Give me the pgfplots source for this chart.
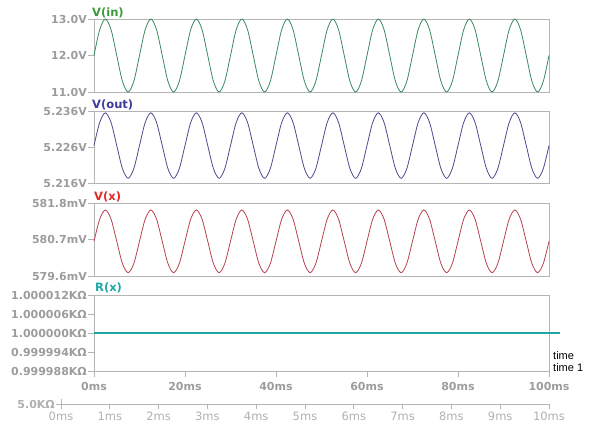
\documentclass[border=0pt]{standalone}
\usepackage{fontspec}
\setmainfont{DejaVu Sans}
\newfontfamily\libsans{Liberation Sans}
\usepackage{pgfplots}
\pgfplotsset{compat=1.18}
\usepackage{pgfplotstable}
\definecolor{framegray}{HTML}{B4B4B4}
\definecolor{tickgray}{HTML}{9C9C9C}
\definecolor{lightgray2}{HTML}{B0B0B0}
\definecolor{vincurve}{HTML}{3A8A5E}
\definecolor{vinlabel}{HTML}{3A9A3A}
\definecolor{voutcurve}{HTML}{4A4A8C}
\definecolor{voutlabel}{HTML}{3C3C9C}
\definecolor{vxcurve}{HTML}{B8404E}
\definecolor{vxlabel}{HTML}{E02828}
\definecolor{rxcol}{HTML}{1FA8A8}

% t [ms], V(in) [V], V(out) [V], V(x) [mV]
\pgfplotstableread{
t vin vout vx
0 12 5.2264 580.645
1.25 12.707 5.2328 581.313
2.5 13 5.2355 581.590
3.75 12.707 5.2328 581.313
5 12 5.2264 580.645
6.25 11.293 5.2200 579.977
7.5 11 5.2173 579.700
8.75 11.293 5.2200 579.977
10 12 5.2264 580.645
11.25 12.707 5.2328 581.313
12.5 13 5.2355 581.590
13.75 12.707 5.2328 581.313
15 12 5.2264 580.645
16.25 11.293 5.2200 579.977
17.5 11 5.2173 579.700
18.75 11.293 5.2200 579.977
20 12 5.2264 580.645
21.25 12.707 5.2328 581.313
22.5 13 5.2355 581.590
23.75 12.707 5.2328 581.313
25 12 5.2264 580.645
26.25 11.293 5.2200 579.977
27.5 11 5.2173 579.700
28.75 11.293 5.2200 579.977
30 12 5.2264 580.645
31.25 12.707 5.2328 581.313
32.5 13 5.2355 581.590
33.75 12.707 5.2328 581.313
35 12 5.2264 580.645
36.25 11.293 5.2200 579.977
37.5 11 5.2173 579.700
38.75 11.293 5.2200 579.977
40 12 5.2264 580.645
41.25 12.707 5.2328 581.313
42.5 13 5.2355 581.590
43.75 12.707 5.2328 581.313
45 12 5.2264 580.645
46.25 11.293 5.2200 579.977
47.5 11 5.2173 579.700
48.75 11.293 5.2200 579.977
50 12 5.2264 580.645
51.25 12.707 5.2328 581.313
52.5 13 5.2355 581.590
53.75 12.707 5.2328 581.313
55 12 5.2264 580.645
56.25 11.293 5.2200 579.977
57.5 11 5.2173 579.700
58.75 11.293 5.2200 579.977
60 12 5.2264 580.645
61.25 12.707 5.2328 581.313
62.5 13 5.2355 581.590
63.75 12.707 5.2328 581.313
65 12 5.2264 580.645
66.25 11.293 5.2200 579.977
67.5 11 5.2173 579.700
68.75 11.293 5.2200 579.977
70 12 5.2264 580.645
71.25 12.707 5.2328 581.313
72.5 13 5.2355 581.590
73.75 12.707 5.2328 581.313
75 12 5.2264 580.645
76.25 11.293 5.2200 579.977
77.5 11 5.2173 579.700
78.75 11.293 5.2200 579.977
80 12 5.2264 580.645
81.25 12.707 5.2328 581.313
82.5 13 5.2355 581.590
83.75 12.707 5.2328 581.313
85 12 5.2264 580.645
86.25 11.293 5.2200 579.977
87.5 11 5.2173 579.700
88.75 11.293 5.2200 579.977
90 12 5.2264 580.645
91.25 12.707 5.2328 581.313
92.5 13 5.2355 581.590
93.75 12.707 5.2328 581.313
95 12 5.2264 580.645
96.25 11.293 5.2200 579.977
97.5 11 5.2173 579.700
98.75 11.293 5.2200 579.977
100 12 5.2264 580.645
}\sigtable

% R(x): deviation from 1.000000 kOhm in ppm (i.e. micro-kOhm)
\pgfplotstableread{
t dev
0 0
102.4 0
}\rtable

\pgfplotsset{
  panel/.style={
    scale only axis, width=455pt, anchor=north west,
    xmin=0, xmax=100, clip=false,
    axis line style={framegray, line width=0.8pt},
    tick style={framegray, line width=0.8pt},
    major tick length=6pt, tick align=outside,
    xtick=\empty, ytick pos=left,
    yticklabel style={font=\bfseries\fontsize{11}{12}\selectfont, text=tickgray, inner sep=1pt},
    xticklabel style={font=\bfseries\fontsize{11}{12}\selectfont, text=tickgray, inner sep=1pt},
  }
}

\begin{document}
\begin{tikzpicture}[x=1pt,y=1pt]
\path[use as bounding box] (0,0) rectangle (616,-428);

\begin{axis}[panel, at={(94pt,-19pt)}, height=73pt,
  ymin=11, ymax=13, ytick={11,12,13}, yticklabels={11.0V,12.0V,13.0V}]
\addplot[vincurve, line width=0.8pt, smooth] table[x=t, y=vin] {\sigtable};
\end{axis}

\begin{axis}[panel, at={(94pt,-111pt)}, height=72pt,
  ymin=5.216, ymax=5.236, ytick={5.216,5.226,5.236}, yticklabels={5.216V,5.226V,5.236V}]
\addplot[voutcurve, line width=0.8pt, smooth] table[x=t, y=vout] {\sigtable};
\end{axis}

\begin{axis}[panel, at={(94pt,-203pt)}, height=73pt,
  ymin=579.6, ymax=581.8, ytick={579.6,580.7,581.8}, yticklabels={579.6mV,580.7mV,581.8mV}]
\addplot[vxcurve, line width=0.8pt, smooth] table[x=t, y=vx] {\sigtable};
\end{axis}

\begin{axis}[panel, at={(94pt,-295pt)}, height=76pt,
  ymin=-12, ymax=12, ytick={-12,-6,0,6,12},
  yticklabels={0.999988KΩ,0.999994KΩ,1.000000KΩ,1.000006KΩ,1.000012KΩ},
  xtick={0,20,40,60,80,100}, xtick pos=bottom,
  xticklabels={0ms,20ms,40ms,60ms,80ms,100ms},
  xticklabel style={yshift=-4pt}]
\addplot[draw=rxcol, line width=1.3pt] table[x=t, y=dev] {\rtable};
\end{axis}

\begin{axis}[scale only axis, at={(61pt,-404pt)}, anchor=south west,
  width=488pt, height=5pt, xmin=0, xmax=10, ymin=0, ymax=1,
  axis x line*=bottom, axis y line*=left,
  axis line style={framegray, line width=0.8pt},
  tick style={framegray, line width=0.8pt},
  major tick length=5pt, tick align=outside,
  xtick={0,1,...,10},
  xticklabels={0ms,1ms,2ms,3ms,4ms,5ms,6ms,7ms,8ms,9ms,10ms},
  ytick={0}, yticklabels={5.0KΩ},
  xticklabel style={font=\fontsize{11.5}{12}\selectfont, text=lightgray2, inner sep=1pt, yshift=-2pt},
  yticklabel style={font=\bfseries\fontsize{11}{12}\selectfont, text=lightgray2, inner sep=1pt}]
\addplot[draw=none] coordinates {(0,0) (10,0)};
\end{axis}

\node[anchor=base west, inner sep=0, font=\bfseries\fontsize{11.5}{12}\selectfont, text=vinlabel] at (92,-17) {V(in)};
\node[anchor=base west, inner sep=0, font=\bfseries\fontsize{11.5}{12}\selectfont, text=voutlabel] at (92,-108.5) {V(out)};
\node[anchor=base west, inner sep=0, font=\bfseries\fontsize{11.5}{12}\selectfont, text=vxlabel] at (94,-200) {V(x)};
\node[anchor=base west, inner sep=0, font=\bfseries\fontsize{11.5}{12}\selectfont, text=rxcol] at (95,-291) {R(x)};

\node[anchor=base west, inner sep=0, font=\libsans\fontsize{11}{11}\selectfont] at (553,-359) {time};
\node[anchor=base west, inner sep=0, font=\libsans\fontsize{11}{11}\selectfont] at (553,-371) {time 1};
\end{tikzpicture}
\end{document}
